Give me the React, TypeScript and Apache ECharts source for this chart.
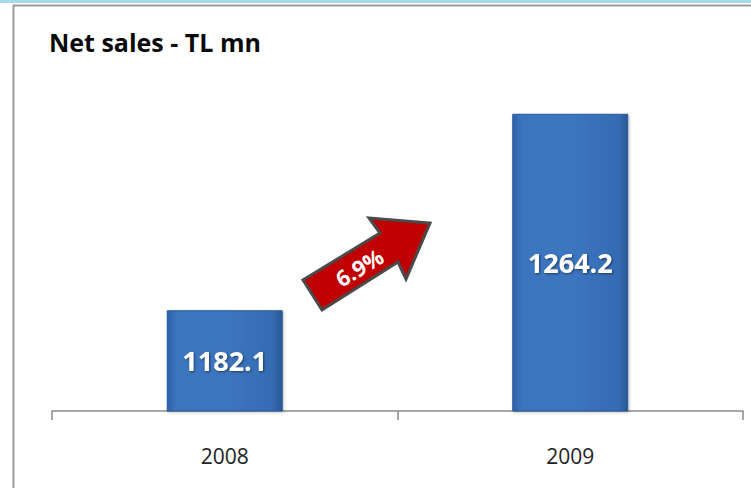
import React, { useEffect, useRef } from "react";
import * as echarts from "echarts";

const categories = ["2008", "2009"];
const netSales = [1182.1, 1264.2];
const growthLabel = "6.9%";
const titleText = "Net sales - TL mn";

export default function App() {
  const ref = useRef<HTMLDivElement>(null);
  useEffect(() => {
    if (!ref.current) return;
    const chart = echarts.init(ref.current, null, { renderer: "svg" });
    const font = "'Open Sans', Lato, sans-serif";
    chart.setOption({
      animation: false,
      backgroundColor: "#ffffff",
      title: {
        text: titleText,
        left: 44,
        top: 24,
        textStyle: { fontFamily: font, fontWeight: "bold", fontSize: 25, color: "#0a0a0a" },
      },
      grid: { left: 52, right: 8, top: 76, bottom: 77 },
      xAxis: {
        type: "category",
        data: categories,
        boundaryGap: true,
        axisLine: { lineStyle: { color: "#8a8a8a", width: 1.5 } },
        axisTick: { show: true, length: 9, lineStyle: { color: "#8a8a8a", width: 1.5 } },
        axisLabel: { fontFamily: font, fontSize: 21, color: "#222", margin: 34 },
      },
      yAxis: {
        type: "value",
        min: 1140,
        max: 1280,
        show: false,
        splitLine: { show: false },
      },
      series: [
        {
          type: "bar",
          data: netSales,
          barWidth: 116,
          itemStyle: {
            color: new echarts.graphic.LinearGradient(0, 0, 1, 0, [
              { offset: 0, color: "#2d62a8" },
              { offset: 0.08, color: "#3b74bd" },
              { offset: 0.5, color: "#3c75bf" },
              { offset: 0.92, color: "#356cb3" },
              { offset: 1, color: "#285794" },
            ]),
            borderColor: "#2a5a98",
            borderWidth: 1,
            shadowColor: "rgba(0,0,0,0.25)",
            shadowBlur: 3,
            shadowOffsetX: 1,
            shadowOffsetY: 1,
          },
          label: {
            show: true,
            position: "inside",
            formatter: (p: any) => p.value.toFixed(1),
            fontFamily: font,
            fontWeight: "bold",
            fontSize: 27,
            color: "#ffffff",
            textShadowColor: "rgba(0,0,0,0.5)",
            textShadowBlur: 2,
            textShadowOffsetX: 1,
            textShadowOffsetY: 1,
          },
        },
      ],
      graphic: [
        {
          type: "rect",
          shape: { x: 0, y: 0, width: 751, height: 3 },
          style: { fill: "#a8d8ec" },
          silent: true,
        },
        {
          type: "polyline",
          shape: { points: [[13.5, 488], [13.5, 5.5], [751, 5.5]] },
          style: { stroke: "#9a9a9a", lineWidth: 2, fill: "none" },
          silent: true,
        },
        {
          type: "polygon",
          shape: {
            points: [
              [303, 280],
              [322, 310],
              [398, 262],
              [406, 279],
              [430, 223],
              [369, 218],
              [380, 233],
            ],
          },
          style: { fill: "#c00000", stroke: "#4a4a4a", lineWidth: 3, lineJoin: "miter" },
          z: 10,
        },
        {
          type: "text",
          x: 359,
          y: 267,
          rotation: 0.55,
          style: {
            text: growthLabel,
            fontFamily: font,
            fontWeight: "bold",
            fontSize: 22,
            fill: "#ffffff",
            align: "center",
            verticalAlign: "middle",
          },
          z: 11,
        },
      ],
    });
    return () => chart.dispose();
  }, []);
  return (
    <div
      ref={ref}
      style={{ position: "fixed", left: 0, top: 0, width: 751, height: 488 }}
    />
  );
}
